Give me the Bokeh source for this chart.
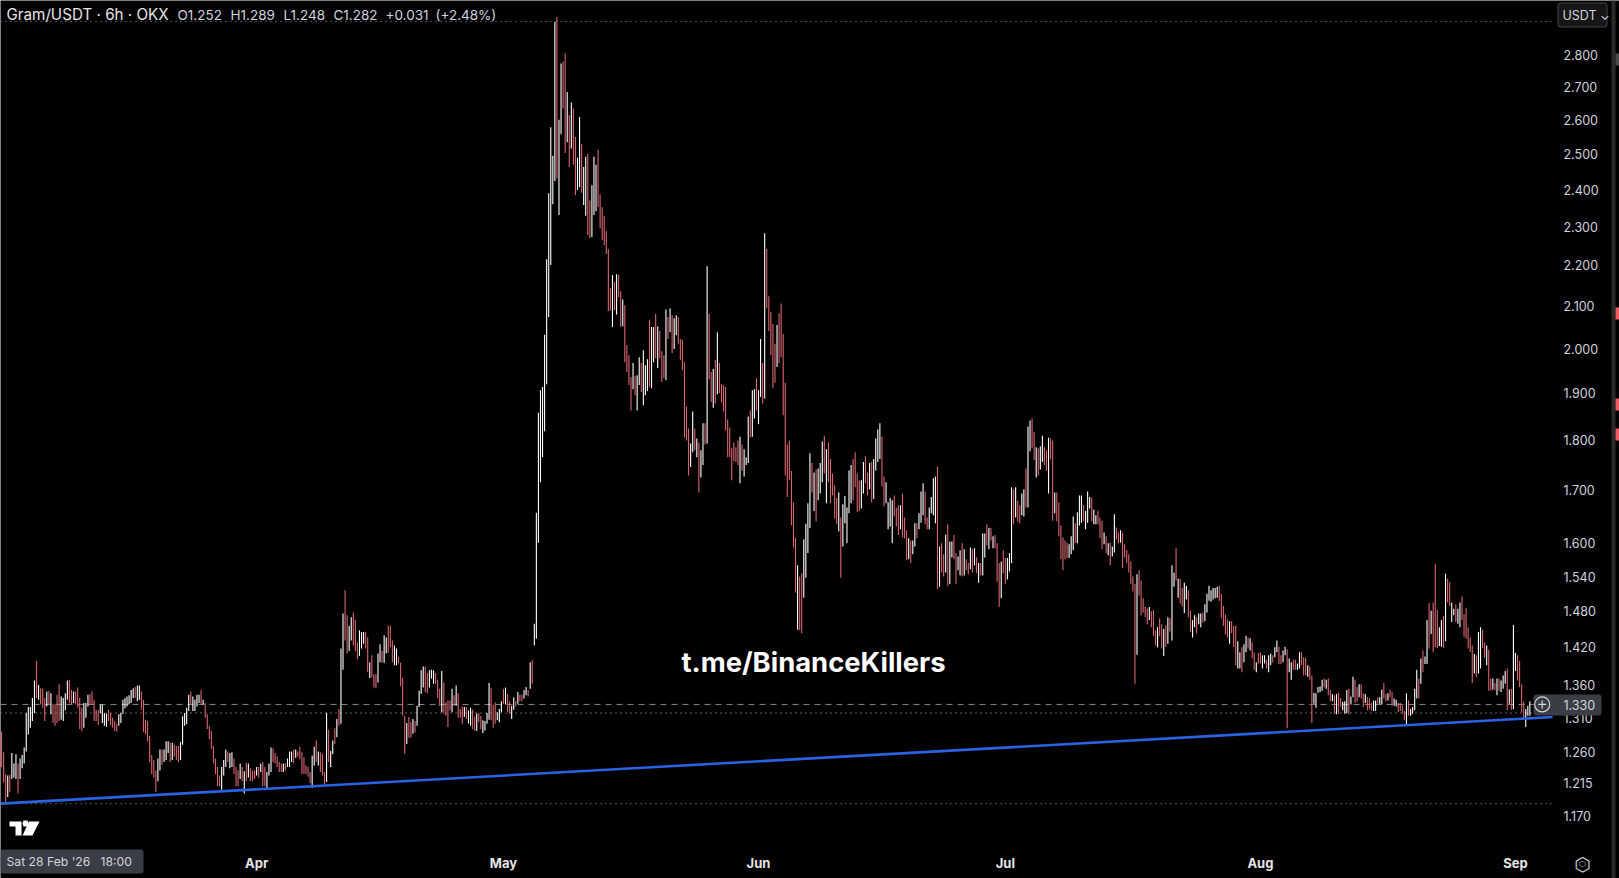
import math

import pandas as pd
from bokeh.embed import file_html
from bokeh.models import (BoxAnnotation, DatetimeTickFormatter, FixedTicker, Label, NumeralTickFormatter,
                          PolyAnnotation, Range1d)
from bokeh.plotting import figure
from bokeh.resources import INLINE

# 6h bars
first_bar = "2026-02-28 18:00"

highs = [
    1.299,1.289,1.259,1.228,1.226,1.227,1.258,1.243,1.256,1.243,1.250,1.255,1.266,1.317,1.326,1.326,1.340,1.367,1.398,1.360,
    1.355,1.355,1.340,1.350,1.351,1.347,1.331,1.330,1.345,1.361,1.342,1.340,1.347,1.367,1.368,1.352,1.350,1.350,1.356,
    1.340,1.325,1.332,1.332,1.345,1.346,1.350,1.337,1.322,1.321,1.330,1.330,1.317,1.316,1.322,1.317,1.310,1.305,1.301,
    1.315,1.317,1.337,1.340,1.342,1.344,1.352,1.355,1.357,1.359,1.359,1.350,1.337,1.307,1.305,1.283,1.255,1.248,1.233,1.250,
    1.263,1.263,1.263,1.275,1.275,1.273,1.273,1.270,1.268,1.268,1.274,1.312,1.317,1.325,1.345,1.350,1.342,1.337,1.345,
    1.345,1.352,1.337,1.332,1.315,1.298,1.290,1.268,1.250,1.238,1.226,1.238,1.248,1.263,1.260,1.258,1.259,1.250,1.238,1.233,
    1.243,1.238,1.232,1.244,1.243,1.236,1.233,1.233,1.238,1.238,1.243,1.245,1.238,1.231,1.243,1.266,1.265,1.258,1.253,
    1.245,1.243,1.243,1.243,1.250,1.260,1.260,1.263,1.263,1.260,
    # April
    1.267,1.259,1.252,1.240,1.238,1.231,1.254,1.267,1.276,1.260,
    1.259,1.257,1.231,1.317,1.292,1.261,1.276,1.294,1.308,1.323,
    1.418,1.476,1.516,1.473,1.455,1.470,1.478,1.465,1.428,1.448,
    1.445,1.445,1.445,1.436,1.396,1.407,1.377,1.377,1.410,1.425,
    1.414,1.440,1.436,1.455,1.456,1.431,1.423,1.418,1.405,1.395,
    1.371,1.313,1.302,1.311,1.303,1.308,1.305,1.328,1.351,1.383,
    1.389,1.389,1.379,1.383,1.384,1.383,1.379,1.368,1.354,1.382,
    1.364,1.333,1.336,1.336,1.354,1.344,1.359,1.347,1.323,1.327,
    1.326,1.326,1.321,1.325,1.322,1.311,1.316,1.317,1.313,1.306,
    1.305,1.317,1.363,1.355,1.330,1.333,1.318,1.323,1.335,1.354,
    1.356,1.346,1.335,1.328,1.341,1.335,1.349,1.345,1.345,1.352,
    1.357,1.352,1.396,1.399,1.459,1.657,
    # May pump
    1.858,1.907,1.914,2.032,2.216,2.390,2.578,2.495,2.908,2.925,
    2.600,2.773,2.780,2.805,2.684,2.614,2.652,2.634,2.549,2.489,
    2.608,2.529,2.463,2.492,2.500,2.371,2.412,2.492,2.469,2.512,
    2.387,2.352,2.329,2.288,2.242,2.144,2.176,2.159,2.178,2.176,
    2.136,2.116,2.102,2.008,1.985,1.936,1.967,1.938,1.940,1.980,
    1.967,1.996,1.962,1.976,2.067,2.050,
    2.050,2.081,2.052,2.041,1.994,1.985,2.092,2.074,2.095,2.078,
    2.071,2.078,2.074,2.022,2.020,1.969,1.872,1.825,1.794,1.861,
    1.825,1.804,1.796,1.780,1.836,1.836,2.198,2.081,1.947,1.954,
    1.974,2.038,1.967,1.920,1.918,1.914,1.844,1.827,1.784,1.796,
    1.786,1.800,1.808,1.792,1.782,1.766,1.850,1.863,1.907,1.909,
    1.933,1.907,2.022,1.967,2.283,2.242,2.124,2.086,2.057,2.011,
    2.055,2.083,2.106,2.034,1.923,1.792,1.800,1.738,1.677,1.610,
    1.560,1.540,1.546,1.607,1.636,1.675,1.774,1.754,1.735,1.741,
    1.743,1.754,1.798,1.810,1.782,1.796,
    # June
    1.762,1.733,1.710,1.685,1.696,1.648,1.673,1.689,1.667,1.739,
    1.750,1.762,1.776,1.733,1.720,1.720,1.756,1.768,1.735,1.754,
    1.756,1.762,1.804,1.823,1.836,1.808,1.727,1.716,1.677,1.685,
    1.681,1.690,1.667,1.671,1.671,1.694,1.648,1.624,1.609,1.605,
    1.605,1.637,1.637,1.656,1.698,1.714,1.698,1.648,1.667,1.687,
    1.724,1.727,1.747,1.594,1.600,1.580,1.616,1.635,1.603,1.603,
    1.615,1.582,1.576,1.587,1.600,1.589,1.571,1.564,1.592,1.589,
    1.591,1.574,1.564,1.564,1.618,1.618,1.635,1.628,1.628,1.613,
    1.615,1.600,1.564,1.567,1.587,1.573,1.573,1.582,1.706,1.702,
    1.706,1.680,
    # July
    1.671,1.694,1.702,1.743,1.829,1.842,1.846,1.817,1.786,1.784,
    1.788,1.810,1.786,1.780,1.806,1.804,1.800,1.696,1.696,1.677,
    1.633,1.611,1.605,1.601,1.598,1.613,1.650,1.637,1.658,1.690,
    1.690,1.671,1.660,1.698,1.687,1.685,1.663,1.652,1.661,1.648,
    1.642,1.620,1.613,1.600,1.601,1.594,1.654,1.629,1.620,1.624,
    1.620,1.598,1.587,1.580,1.567,1.540,1.527,1.544,1.551,1.533,
    1.502,1.487,1.485,1.487,1.480,1.482,1.448,1.453,1.468,1.458,
    1.450,1.456,1.470,1.468,1.560,1.547,1.591,1.536,1.536,1.520,
    1.529,1.524,1.516,1.481,1.465,1.473,1.470,1.476,1.476,1.478,
    1.492,1.510,1.524,1.516,1.520,1.520,1.522,1.524,1.510,1.489,
    1.475,1.466,1.463,1.463,1.455,1.456,1.430,1.412,
    # August
    1.420,1.425,1.439,1.436,1.435,1.428,1.412,1.396,1.411,1.412,
    1.407,1.407,1.400,1.407,1.410,1.407,1.420,1.431,1.421,1.407,
    1.415,1.421,1.417,1.402,1.396,1.400,1.400,1.394,1.412,1.412,
    1.404,1.403,1.391,1.389,1.375,1.348,1.347,1.357,1.358,1.368,
    1.370,1.368,1.370,1.352,1.346,1.344,1.346,1.348,1.340,1.334,
    1.335,1.352,1.354,1.342,1.373,1.368,1.357,1.361,1.361,1.347,
    1.346,1.341,1.339,1.332,1.336,1.336,1.341,1.341,1.353,1.363,
    1.346,1.347,1.353,1.349,1.339,1.337,1.332,1.332,1.328,1.320,
    1.347,1.336,1.323,1.326,1.354,1.384,1.370,1.402,1.415,1.405,
    1.465,1.494,1.481,1.495,1.562,1.482,1.453,1.465,1.472,1.545,
    1.536,1.530,1.495,1.484,1.492,1.484,1.495,1.505,1.475,1.486,
    1.453,1.436,1.423,1.409,1.407,1.445,1.453,1.449,1.428,1.423,
    1.416,1.370,1.370,1.363,1.370,1.370,1.367,1.375,1.382,1.386,
    1.353,1.354,1.457,1.411,1.407,1.398,1.361,1.334,1.323,1.328,1.335,
]

lows = [
    1.260,1.238,1.216,1.188,1.196,1.203,1.221,1.223,1.221,1.201,1.221,1.236,1.243,1.260,1.285,1.295,1.305,1.317,1.340,1.337,
    1.330,1.325,1.305,1.327,1.330,1.315,1.302,1.298,1.302,1.305,1.307,1.305,1.321,1.337,1.332,1.330,1.332,1.330,1.325,
    1.293,1.290,1.295,1.310,1.327,1.330,1.330,1.305,1.305,1.299,1.317,1.302,1.298,1.296,1.305,1.299,1.295,1.290,1.289,
    1.298,1.302,1.316,1.324,1.327,1.330,1.332,1.340,1.340,1.335,1.337,1.322,1.289,1.285,1.275,1.245,1.228,1.223,1.203,1.218,
    1.233,1.241,1.245,1.248,1.258,1.245,1.248,1.253,1.248,1.245,1.248,1.270,1.298,1.300,1.320,1.330,1.320,1.320,1.327,
    1.332,1.330,1.330,1.310,1.293,1.278,1.264,1.243,1.228,1.211,1.211,1.206,1.226,1.238,1.245,1.236,1.238,1.228,1.211,1.211,
    1.221,1.218,1.201,1.218,1.223,1.218,1.218,1.221,1.226,1.223,1.231,1.211,1.211,1.208,1.226,1.231,1.245,1.243,1.238,
    1.231,1.231,1.231,1.233,1.238,1.238,1.245,1.243,1.251,1.253,
    # April
    1.249,1.228,1.228,1.228,1.224,1.215,1.209,1.240,1.245,1.240,
    1.231,1.226,1.214,1.217,1.245,1.238,1.256,1.271,1.281,1.298,
    1.301,1.384,1.431,1.410,1.414,1.431,1.423,1.414,1.401,1.406,
    1.418,1.426,1.418,1.380,1.371,1.372,1.356,1.355,1.364,1.396,
    1.395,1.395,1.410,1.411,1.420,1.396,1.391,1.391,1.394,1.358,
    1.313,1.257,1.271,1.280,1.280,1.286,1.288,1.298,1.326,1.346,
    1.356,1.349,1.347,1.356,1.370,1.362,1.362,1.340,1.328,1.318,
    1.316,1.313,1.296,1.321,1.318,1.328,1.328,1.310,1.310,1.301,
    1.311,1.308,1.301,1.298,1.293,1.291,1.290,1.303,1.293,1.287,
    1.291,1.301,1.307,1.306,1.295,1.301,1.306,1.303,1.318,1.331,
    1.330,1.318,1.316,1.308,1.322,1.327,1.331,1.335,1.335,1.339,
    1.344,1.342,1.354,1.362,1.423,1.434,
    # May pump
    1.601,1.716,1.766,1.819,1.920,2.074,2.201,2.360,2.424,2.431,
    2.331,2.557,2.634,2.503,2.534,2.463,2.516,2.469,2.385,2.399,
    2.407,2.391,2.358,2.329,2.278,2.270,2.273,2.331,2.341,2.352,
    2.296,2.265,2.252,2.229,2.088,2.090,2.050,2.090,2.080,2.121,
    2.050,2.052,1.969,1.947,1.918,1.863,1.909,1.896,1.863,1.918,
    1.903,1.874,1.896,1.905,1.914,1.911,
    1.969,1.978,1.956,1.978,1.925,1.933,1.929,2.022,2.038,1.990,
    1.999,2.031,2.011,1.974,1.951,1.806,1.800,1.729,1.746,1.776,
    1.780,1.766,1.696,1.725,1.750,1.792,1.794,1.931,1.881,1.869,
    1.878,1.898,1.901,1.881,1.861,1.821,1.766,1.766,1.720,1.758,
    1.756,1.750,1.714,1.739,1.727,1.750,1.754,1.806,1.808,1.846,
    1.863,1.834,1.892,1.878,1.889,2.095,2.041,1.985,1.911,1.923,
    1.958,1.967,1.980,1.853,1.729,1.687,1.720,1.633,1.592,1.512,
    1.449,1.448,1.443,1.503,1.538,1.582,1.628,1.696,1.660,1.641,
    1.681,1.694,1.716,1.733,1.675,1.716,
    # June
    1.675,1.690,1.646,1.635,1.622,1.538,1.594,1.637,1.600,1.656,
    1.675,1.681,1.706,1.658,1.660,1.665,1.694,1.714,1.690,1.702,
    1.677,1.683,1.739,1.756,1.762,1.708,1.669,1.675,1.626,1.631,
    1.600,1.650,1.631,1.615,1.626,1.611,1.609,1.569,1.571,1.564,
    1.580,1.594,1.609,1.626,1.638,1.652,1.635,1.626,1.626,1.656,
    1.652,1.637,1.518,1.522,1.547,1.540,1.547,1.524,1.527,1.574,
    1.571,1.527,1.551,1.542,1.540,1.542,1.551,1.544,1.553,1.547,
    1.560,1.546,1.529,1.542,1.542,1.574,1.596,1.589,1.605,1.591,
    1.591,1.531,1.487,1.502,1.546,1.527,1.535,1.549,1.564,1.635,
    1.648,1.640,
    # July
    1.637,1.652,1.650,1.667,1.667,1.778,1.784,1.760,1.725,1.729,
    1.741,1.756,1.750,1.739,1.694,1.762,1.642,1.656,1.641,1.613,
    1.571,1.551,1.571,1.573,1.573,1.580,1.587,1.600,1.600,1.633,
    1.638,1.641,1.626,1.638,1.665,1.641,1.635,1.635,1.635,1.609,
    1.589,1.598,1.582,1.578,1.560,1.576,1.583,1.607,1.600,1.601,
    1.555,1.574,1.564,1.547,1.527,1.514,1.362,1.408,1.507,1.473,
    1.478,1.470,1.458,1.465,1.453,1.439,1.423,1.420,1.438,1.418,
    1.406,1.421,1.426,1.446,1.431,1.522,1.533,1.503,1.493,1.488,
    1.477,1.500,1.470,1.445,1.436,1.453,1.443,1.458,1.453,1.461,
    1.463,1.478,1.498,1.496,1.500,1.502,1.503,1.498,1.468,1.455,
    1.441,1.436,1.426,1.443,1.420,1.391,1.386,1.386,
    # August
    1.380,1.396,1.412,1.418,1.415,1.402,1.384,1.380,1.394,1.394,
    1.386,1.394,1.386,1.380,1.391,1.396,1.404,1.412,1.393,1.393,
    1.396,1.407,1.294,1.380,1.368,1.384,1.384,1.384,1.386,1.391,
    1.375,1.375,1.373,1.368,1.302,1.331,1.325,1.348,1.349,1.351,
    1.356,1.354,1.344,1.335,1.335,1.316,1.315,1.316,1.327,1.321,
    1.316,1.317,1.315,1.330,1.341,1.332,1.334,1.341,1.339,1.326,
    1.332,1.321,1.323,1.321,1.320,1.320,1.331,1.331,1.330,1.339,
    1.335,1.336,1.341,1.328,1.328,1.327,1.318,1.320,1.316,1.306,
    1.298,1.313,1.313,1.316,1.321,1.339,1.340,1.362,1.380,1.393,
    1.393,1.418,1.442,1.412,1.420,1.419,1.422,1.421,1.419,1.430,
    1.495,1.489,1.462,1.473,1.462,1.459,1.453,1.465,1.437,1.434,
    1.418,1.412,1.363,1.378,1.372,1.378,1.386,1.419,1.403,1.391,
    1.351,1.351,1.353,1.352,1.344,1.351,1.349,1.354,1.362,1.321,
    1.331,1.322,1.323,1.382,1.367,1.357,1.318,1.308,1.296,1.313,1.313,
]

# W closes up, R closes down
bar_dirs = (
    "WRRRWRWWWRWWWWWWWWRW"
    "RRRWRWRRRRWWWWRRWRR"
    "RRWWWRRRRRWWWWRRRRR"
    "WWWWWWWWRWWRRRRRRRRW"
    "WRWWWRWRRRWWWWWRWWW"
    "WRWRRRRRRRRWWWRWWRRR"
    "WRWRWRRRWRWRRWWWRRR"
    "RRWRWWWRWR"
    "RRRRRRWWRW" "RRRWRWWRWR" "WWRRWWRRRW" "WWRRWRRRWW" "RWWRRRWWRR"
    "RRWRRWRWWW" "WRRWWWRRRW" "RRRRWRWRRR" "WRWWRRWRRW" "WWWRRRWWWR"
    "WRRWWRWRRW" "WRWRWW"
    "WWWWWWWWWR" "WWRRWRWRRW" "WRWWRRWWWR" "RRRRRRWRWR" "RWRRRRWRWW" "RWWWRW"
    "WRWRRRWRWR" "WWRRRRRRWW" "RWRWWRWRRW" "RWRRRRRRRR" "RRWRWWWRWW"
    "RWWRWRRRRR" "WRRRRRRRRR" "WRRWWWWRWR" "WWWRWR"
    "RRRRWRWWWW" "WRRRRWWRRW" "RWWWWRRWWW" "WRRRWRRRWR" "WWRWWWRRWW"
    "WWRWRRWRWW" "RRWWRWRRWR" "WRWRWWRWRW" "RRRWRRWWWR" "WR"
    "RWWRWWRRWR" "WWRRWRRWRR" "RRRRWWWRWW" "WRWWWRWWRR" "RWRWRWWRRW"
    "RRRRRRRWRR" "RRRWRRRWRR" "WRWRWWRWRR" "WWRRWWRWWR" "WWWWWWWRRR"
    "RRWRRRWW"
    "RWWRWRRWRR" "WWRWWRWWRR" "WWRWWRRWWR" "RRWRRWWWWW" "RWRRWRWRRW"
    "WWRWWRRWRR" "WRRRWWRWWR" "RWRRWWRRRR" "WRWWWWRWRW" "WRWRRRWWRW"
    "RRWWRWWRRR" "RRRWRWWRRW" "RRWRWRWWWR" "WRWWRRRRWWW"
)

price_ticks = [1.17, 1.215, 1.26, 1.31, 1.36, 1.42, 1.48, 1.54, 1.6, 1.7, 1.8, 1.9,
               2.0, 2.1, 2.2, 2.3, 2.4, 2.5, 2.6, 2.7, 2.8]
month_ticks = ["2026-04-01", "2026-05-01", "2026-06-01", "2026-07-01", "2026-08-01", "2026-09-01"]

last_price = 1.33
visible_high = 2.91
visible_low = 1.187
avg_price = 1.317
trend_prices = [1.187, 1.311]

up_color = "#ffffff"
down_color = "#d9656f"
text_color = "#d1d4dc"
box_color = "#3a3d45"

n = min(len(highs), len(lows), len(bar_dirs))
times = pd.date_range(first_bar, periods=n, freq="6h")
colors = [up_color if d == "W" else down_color for d in bar_dirs[:n]]

# the frame fills the page so nothing gets clipped, the axes sit inside it at fixed spots
page_w, page_h = 1619, 878
chart_w, chart_h = 1552, 848
x_left = pd.Timestamp("2026-02-28 20:55").value / 1e6
x_chart_end = pd.Timestamp("2026-09-05 12:00").value / 1e6
y_top, y_chart_bottom = 2.981, 1.1275
y_bottom = y_top * math.exp(math.log(y_chart_bottom / y_top) * page_h / chart_h)
x_right = x_left + (x_chart_end - x_left) * page_w / chart_w

p = figure(width=page_w, height=page_h,
           x_axis_type="datetime", y_axis_type="log", y_axis_location="right",
           x_range=Range1d(x_left, x_right), y_range=Range1d(y_bottom, y_top),
           output_backend="svg", toolbar_location=None,
           min_border_left=0, min_border_top=0, min_border_right=0, min_border_bottom=0,
           background_fill_color="#000000", border_fill_color="#000000", outline_line_color=None)
p.grid.visible = False

# axes
p.yaxis.fixed_location = x_chart_end
p.yaxis.ticker = FixedTicker(ticks=price_ticks, minor_ticks=[])
p.yaxis.formatter = NumeralTickFormatter(format="0.000")
p.yaxis.axis_line_color = None
p.yaxis.major_tick_line_color = None
p.yaxis.minor_tick_line_color = None
p.yaxis.major_tick_out = 0
p.yaxis.major_label_standoff = 11
p.yaxis.major_label_text_color = text_color
p.yaxis.major_label_text_font = "Inter"
p.yaxis.major_label_text_font_size = "12.5px"

p.xaxis.fixed_location = y_chart_bottom
p.xaxis.ticker = FixedTicker(ticks=[pd.Timestamp(t).value / 1e6 for t in month_ticks], minor_ticks=[])
p.xaxis.formatter = DatetimeTickFormatter(hours="%b", days="%b", months="%b", years="%b", context=None)
p.xaxis.axis_line_color = None
p.xaxis.major_tick_line_color = None
p.xaxis.minor_tick_line_color = None
p.xaxis.major_tick_out = 0
p.xaxis.major_label_standoff = 6
p.xaxis.major_label_text_color = "#e6e6e6"
p.xaxis.major_label_text_font = "Inter"
p.xaxis.major_label_text_font_style = "bold"
p.xaxis.major_label_text_font_size = "13px"

# price lines
chart_span = [x_left, x_chart_end]
p.line(chart_span, [visible_high] * 2, line_color="#9a9a9a", line_width=1, line_dash="1 4")
p.line(chart_span, [avg_price] * 2, line_color="#c8c8c8", line_width=1, line_dash="1 4")
p.line(chart_span, [visible_low] * 2, line_color="#9a9a9a", line_width=1, line_dash="1 4")
p.line(chart_span, [last_price] * 2, line_color="#8a8a8a", line_width=1, line_dash="6 5")

# bars
p.segment(x0=times, y0=lows, x1=times, y1=highs, line_color=colors, line_width=1.1)

# trendline
p.line(chart_span, trend_prices, line_color="#2b62e3", line_width=2.6)


# screen units count from the frame's bottom left, here that is the page's
def page_label(text, x, y, size="13px", color=text_color, style="normal", font="Inter"):
    p.add_layout(Label(x=x, y=page_h - y, x_units="screen", y_units="screen", text=text, text_color=color,
                       text_font=font, text_font_size=size, text_font_style=style, text_baseline="middle"))


def page_box(left, right, top, bottom, color, **kw):
    p.add_layout(BoxAnnotation(left=left, right=right, top=page_h - top, bottom=page_h - bottom,
                               left_units="screen", right_units="screen", top_units="screen",
                               bottom_units="screen", fill_color=color, fill_alpha=1, line_color=None, **kw))


# header
page_label("Gram/USDT · 6h · OKX", 6, 14, size="15.2px", color="#e6e6e6")
for token, x in [("O1.252", 177), ("H1.289", 230), ("L1.248", 283), ("C1.282", 333),
                 ("+0.031", 385), ("(+2.48%)", 435)]:
    page_label(token, x, 14, size="13.5px")

# currency button, a stroked box leaves a line round the page in svg so two fills instead
page_box(1557, 1607, 2, 27, "#444444", border_radius=4)
page_box(1558, 1606, 3, 26, "#161616", border_radius=3)
page_label("USDT ⌄", 1562, 15, size="12.5px")

# watermark
page_label("t.me/BinanceKillers", 681, 661, size="27.4px", color="#ffffff", style="bold")

# last price tag
page_box(1533, 1601, 694, 715, box_color, border_radius=3)
page_label("1.330", 1563, 704.5, size="12.5px")
p.scatter(x=[pd.Timestamp("2026-09-04 06:00")], y=[last_price], marker="circle", size=15,
          fill_color=None, line_color=text_color, line_width=1.2, level="overlay")
p.scatter(x=[pd.Timestamp("2026-09-04 06:00")], y=[last_price], marker="cross", size=8,
          line_color=text_color, line_width=1.2, level="overlay")

# cursor date tag
page_box(0, 143, 849, 873, box_color, border_radius=3)
page_label("Sat 28 Feb '26", 6, 861, size="12.2px")
page_label("18:00", 100, 861, size="12.2px")

# tradingview logo
for xs, ys in [([9, 21, 21, 15, 15, 9], [821, 821, 835, 835, 826, 826]),
               ([28.5, 39, 32, 22], [821, 821, 835, 835]),
               ([23, 27, 28, 27, 23, 22], [820, 820, 823, 826, 826, 823])]:
    p.add_layout(PolyAnnotation(xs=xs, ys=[page_h - y for y in ys], xs_units="screen", ys_units="screen",
                                fill_color="#ffffff", fill_alpha=1, line_color=None))

# settings icon
page_label("⬡", 1574, 863, size="19px", font="DejaVu Sans")
page_label("○", 1578.5, 863, size="8px", font="DejaVu Sans")

# side strip at the window edge
page_box(1611, 1615, 0, 878, "#2a2a2a")
page_box(1615, 1619, 53, 65, "#4a4a4a")
for mark_y in [307, 398, 428]:
    page_box(1615, 1619, mark_y, mark_y + 12, "#f05a60")

open("out.html", "w").write(file_html(p, INLINE))
